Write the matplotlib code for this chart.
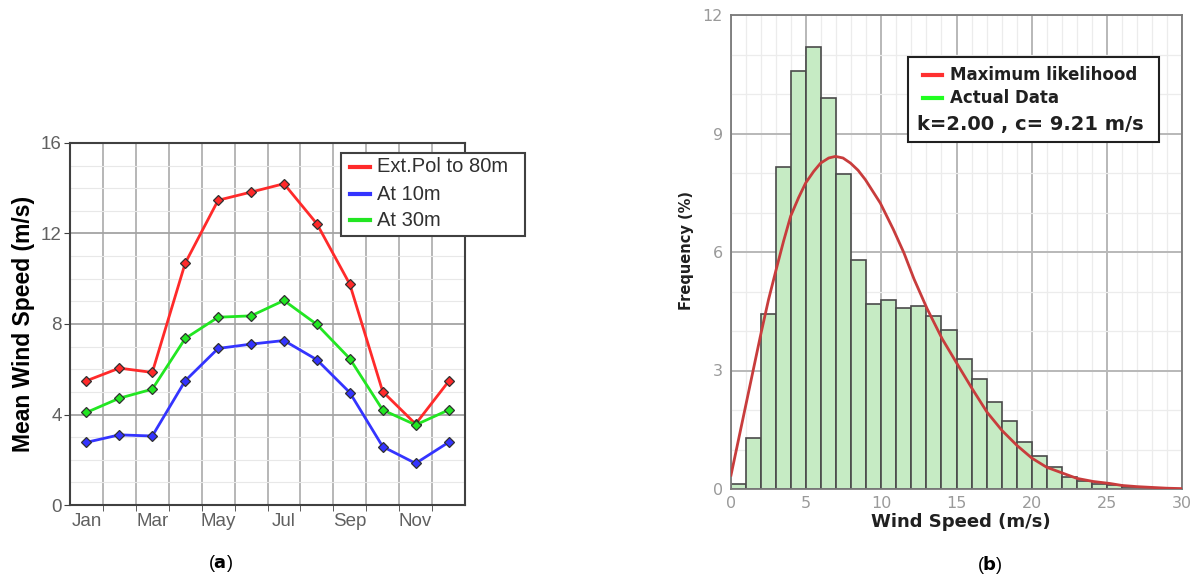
import numpy as np
import matplotlib
matplotlib.use('Agg')
import matplotlib.pyplot as plt
from matplotlib.patches import Rectangle
from matplotlib.lines import Line2D

# (a) mean monthly wind speed
months = ['Jan', 'Feb', 'Mar', 'Apr', 'May', 'Jun', 'Jul', 'Aug', 'Sep', 'Oct', 'Nov', 'Dec']
ext_80m = [5.49, 6.05, 5.86, 10.69, 13.47, 13.83, 14.2, 12.43, 9.76, 5.01, 3.58, 5.46]
at_10m = [2.77, 3.10, 3.05, 5.49, 6.92, 7.11, 7.27, 6.42, 4.97, 2.58, 1.84, 2.77]
at_30m = [4.09, 4.72, 5.12, 7.36, 8.30, 8.36, 9.04, 7.98, 6.47, 4.20, 3.54, 4.20]

# (b) wind speed histogram (1 m/s bins) and fitted curve
bin_left = list(range(0, 30))
freq = [0.13, 1.28, 4.44, 8.14, 10.57, 11.19, 9.89, 7.97, 5.79, 4.68,
        4.78, 4.58, 4.64, 4.38, 4.03, 3.30, 2.78, 2.21, 1.73, 1.19,
        0.84, 0.55, 0.31, 0.20, 0.13, 0.09, 0.06, 0.03, 0.02, 0.01]
fit_v = [0, 0.5, 1.0, 1.5, 2.0, 2.5, 3.0, 3.5, 3.97, 4.5, 4.97, 5.5, 5.96, 6.5, 6.95,
         7.45, 7.95, 8.45, 8.94, 9.93, 10.8, 11.5, 12.17, 13.05, 14.05, 15.04, 16.04,
         17.04, 18.03, 19.03, 20.02, 21.0, 22.0, 23.0, 24.1, 25.2, 26, 27, 28, 29, 30]
fit_f = [0.35, 1.25, 2.15, 3.05, 3.95, 4.8, 5.55, 6.28, 6.91, 7.38, 7.75, 8.04, 8.25, 8.38, 8.42,
         8.38, 8.25, 8.07, 7.83, 7.24, 6.57, 5.98, 5.32, 4.56, 3.80, 3.17, 2.54,
         1.94, 1.48, 1.10, 0.78, 0.55, 0.41, 0.27, 0.19, 0.14, 0.09, 0.06, 0.04, 0.02, 0.01]

fig = plt.figure(figsize=(11.97, 5.77), dpi=100)

# ---------- left panel ----------
ax1 = fig.add_axes([70/1197, 72/577, 395/1197, 362/577])
x = np.arange(len(months))
for vals, col, lab in [(ext_80m, '#ff2a2a', 'Ext.Pol to 80m'),
                       (at_10m, '#3434ff', 'At 10m'),
                       (at_30m, '#22e622', 'At 30m')]:
    ax1.plot(x, vals, color=col, lw=2, marker='D', ms=5.5, mfc=col,
             mec='#303030', mew=0.9, label=lab, zorder=3)
ax1.set_xlim(-0.5, 11.5)
ax1.set_ylim(0, 16)
ax1.set_xticks(x[::2])
ax1.set_xticklabels(months[::2])
ax1.set_xticks(np.arange(0.5, 11, 1), minor=True)
ax1.set_yticks([0, 4, 8, 12, 16])
ax1.set_yticks(np.arange(1, 16, 1), minor=True)
ax1.grid(which='minor', axis='x', color='#aaaaaa', lw=1.2)
ax1.grid(which='minor', axis='y', color='#e8e8e8', lw=0.8)
ax1.grid(which='major', axis='y', color='#a4a4a4', lw=1.3)
ax1.tick_params(axis='x', which='major', length=0, labelsize=13.5, labelcolor='#606060', pad=6)
ax1.tick_params(axis='x', which='minor', length=4, color='#404040', direction='out')
ax1.tick_params(axis='y', which='major', length=4, color='#404040', labelsize=13.5,
                labelcolor='#606060', pad=2)
ax1.tick_params(axis='y', which='minor', length=0)
for lbl in ax1.get_xticklabels() + ax1.get_yticklabels():
    lbl.set_family('Liberation Sans')
for s in ax1.spines.values():
    s.set_color('#404040')
    s.set_linewidth(1.5)
ax1.set_axisbelow(True)
fig.text(24/1197, 1 - 324/577, 'Mean Wind Speed (m/s)', rotation=90, ha='center', va='center',
         fontsize=16.5, fontweight='bold', family='Liberation Sans')

# legend box, partly outside the axes
ax1.add_patch(Rectangle((0.686, 0.743), 0.466, 0.229, transform=ax1.transAxes,
                        fc='white', ec='#404040', lw=1.5, clip_on=False, zorder=5))
for yy, col, lab in [(0.935, '#ff2a2a', 'Ext.Pol to 80m'),
                     (0.859, '#3434ff', 'At 10m'),
                     (0.787, '#22e622', 'At 30m')]:
    ax1.add_line(Line2D([0.708, 0.759], [yy, yy], transform=ax1.transAxes, color=col,
                        lw=3, clip_on=False, zorder=6))
    ax1.text(0.777, yy, lab, transform=ax1.transAxes, va='center', ha='left',
             fontsize=14.5, color='#303030', family='Liberation Sans', zorder=6)

# ---------- right panel ----------
ax2 = fig.add_axes([731/1197, 88/577, 451/1197, 474/577])
ax2.bar(bin_left, freq, width=1, align='edge', color='#c6ebc4', edgecolor='#4a4a4a',
        lw=1.2, zorder=2)
ax2.plot(fit_v, fit_f, color='#c83c3c', lw=2, zorder=3)
ax2.set_xlim(0, 30)
ax2.set_ylim(0, 12)
ax2.set_xticks([0, 5, 10, 15, 20, 25, 30])
ax2.set_yticks([0, 3, 6, 9, 12])
ax2.set_xticks(np.arange(1, 30, 1), minor=True)
ax2.set_yticks(np.arange(1, 12, 1), minor=True)
ax2.grid(which='minor', color='#ececec', lw=0.9)
ax2.grid(which='major', color='#b8b8b8', lw=1.4)
ax2.set_axisbelow(True)
ax2.tick_params(which='both', length=0, labelsize=11.5, labelcolor='#9a9a9a')
ax2.tick_params(axis='y', pad=6)
ax2.tick_params(axis='x', pad=5)
for s in ax2.spines.values():
    s.set_color('#7a7a7a')
    s.set_linewidth(1.3)
fig.text(961/1197, 1 - 522/577, 'Wind Speed (m/s)', ha='center', va='center',
         fontsize=13, fontweight='bold', color='#202020')
fig.text(687/1197, 1 - 251/577, 'Frequency (%)', rotation=90, ha='center', va='center',
         fontsize=10.5, fontweight='bold', color='#202020')

ax2.add_patch(Rectangle((0.392, 0.733), 0.557, 0.179, transform=ax2.transAxes,
                        fc='white', ec='#202020', lw=1.5, zorder=5))
for yy, col, lab in [(0.873, '#ff3030', 'Maximum likelihood'),
                     (0.825, '#20ff20', 'Actual Data')]:
    ax2.add_line(Line2D([0.426, 0.468], [yy, yy], transform=ax2.transAxes, color=col,
                        lw=3, zorder=6))
    ax2.text(0.486, yy, lab, transform=ax2.transAxes, va='center', ha='left',
             fontsize=12, fontweight='bold', color='#202020', zorder=6)
ax2.text(0.412, 0.768, 'k=2.00 , c= 9.21 m/s', transform=ax2.transAxes, va='center',
         ha='left', fontsize=14, fontweight='bold', color='#202020', zorder=6)

# captions
fig.text(221/1197, 1 - 564/577, '(' + r'$\mathbf{a}$' + ')', ha='center', va='center',
         fontsize=13, family='Liberation Sans')
fig.text(990/1197, 1 - 565/577, '(' + r'$\mathbf{b}$' + ')', ha='center', va='center',
         fontsize=13, family='Liberation Sans')

fig.savefig('out.png', dpi=100)
